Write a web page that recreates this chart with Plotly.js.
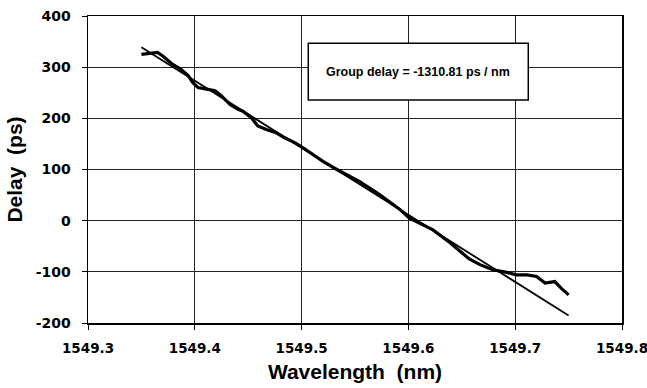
<!DOCTYPE html>
<html>
<head>
<meta charset="utf-8">
<script src="https://cdn.plot.ly/plotly-3.0.1.min.js"></script>
<style>html,body{margin:0;padding:0;background:#fff;}#chart{width:647px;height:388px;}</style>
</head>
<body>
<div id="chart"></div>
<script>
const measuredWavelength = [1549.350,1549.365,1549.370,1549.379,1549.387,1549.394,1549.398,1549.403,1549.411,1549.419,1549.425,1549.433,1549.440,1549.445,1549.453,1549.459,1549.467,1549.476,1549.484,1549.494,1549.501,1549.511,1549.520,1549.533,1549.554,1549.573,1549.592,1549.601,1549.611,1549.623,1549.639,1549.648,1549.657,1549.667,1549.679,1549.692,1549.701,1549.711,1549.720,1549.728,1549.737,1549.743,1549.750];
const measuredDelay = [325,329,322,306,296,283,270,260,257,254,244,227,218,214,201,185,178,172,162,152,143,129,116,100,77,51,22,5,-5,-18,-43,-60,-75,-86,-96,-101,-106,-106,-109,-122,-119,-132,-145];
// Linear fit endpoints
const fitWavelength = [1549.35, 1549.75];
const fitDelay = [339, -185.3];
const xTicks = [1549.3, 1549.4, 1549.5, 1549.6, 1549.7, 1549.8];
const xTickLabels = ['1549.3','1549.4','1549.5','1549.6','1549.7','1549.8'];
const yTicks = [-200, -100, 0, 100, 200, 300, 400];
const yTickLabels = ['-200','-100','0','100','200','300','400'];
const annotationText = 'Group delay = -1310.81 ps / nm';

const font = 'Liberation Sans, Arial, Helvetica, sans-serif';
const tickFamily = 'DejaVu Sans, Liberation Sans, Arial, sans-serif';
const bold = s => '<b>' + s + '</b>';
const traces = [
  {x: fitWavelength, y: fitDelay, mode: 'lines', line: {color: '#000', width: 1.8}, hoverinfo: 'skip'},
  {x: measuredWavelength, y: measuredDelay, mode: 'lines', line: {color: '#000', width: 3.2}, hoverinfo: 'skip'}
];
const layout = {
  width: 647, height: 388,
  margin: {l: 88, r: 25, t: 16, b: 65},
  paper_bgcolor: '#fff', plot_bgcolor: '#fff',
  showlegend: false,
  font: {family: font, color: '#000'},
  xaxis: {
    range: [1549.3, 1549.8], tickvals: xTicks, ticktext: xTickLabels.map(bold),
    showgrid: true, gridcolor: '#222', gridwidth: 1.2,
    showline: true, linecolor: '#000', linewidth: 1.5, mirror: true,
    ticks: 'outside', ticklen: 5, tickcolor: '#000', zeroline: false,
    ticklabelstandoff: 7, ticklabeloverflow: 'allow',
    tickfont: {size: 13.5, family: tickFamily, color: '#000', weight: 'bold'},
    title: {text: bold('Wavelength\u00a0\u00a0(nm)'), font: {size: 21, family: font, color: '#000'}, standoff: 9}
  },
  yaxis: {
    range: [-200, 400], tickvals: yTicks, ticktext: yTickLabels.map(bold),
    showgrid: true, gridcolor: '#222', gridwidth: 1.2,
    showline: true, linecolor: '#000', linewidth: 1.5, mirror: true,
    ticks: 'outside', ticklen: 5, tickcolor: '#000', zeroline: false,
    ticklabelstandoff: 8,
    tickfont: {size: 14, family: tickFamily, color: '#000', weight: 'bold'},
    title: {text: bold('Delay\u00a0\u00a0(ps)'), font: {size: 21, family: font, color: '#000'}, standoff: 7}
  },
  shapes: [{type: 'rect', xref: 'paper', yref: 'paper', x0: 0.4125, x1: 0.8245, y0: 0.726, y1: 0.911,
            fillcolor: '#fff', line: {color: '#000', width: 1.5}, layer: 'above'}],
  annotations: [{xref: 'paper', yref: 'paper', x: 0.618, y: 0.8176, text: bold(annotationText), showarrow: false,
                 font: {size: 12.5, family: font, color: '#000'}, xanchor: 'center', yanchor: 'middle'}]
};
Plotly.newPlot('chart', traces, layout, {staticPlot: true, displayModeBar: false});
</script>
</body>
</html>
